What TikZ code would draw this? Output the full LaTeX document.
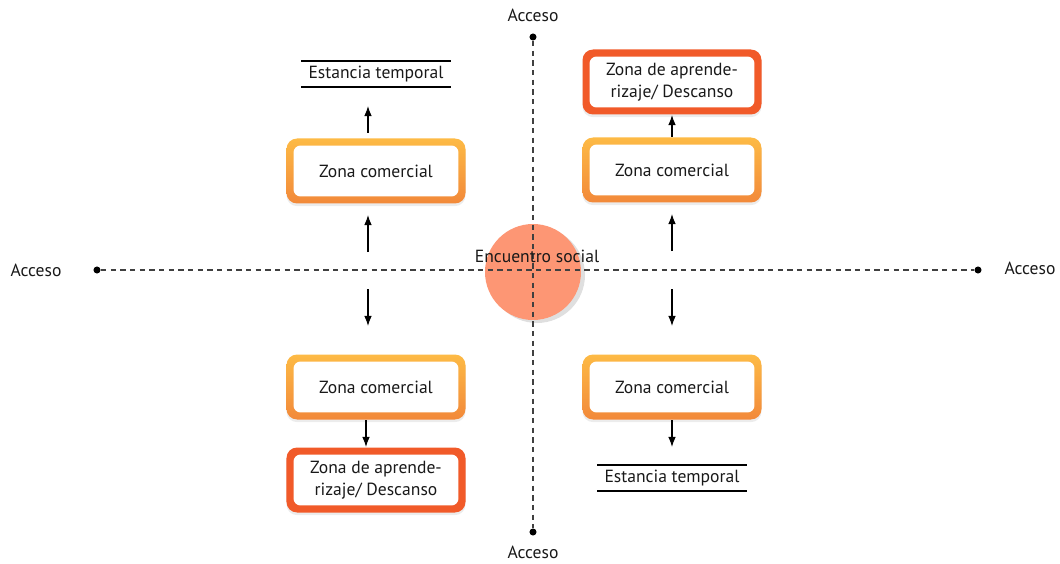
\documentclass[tikz,border=0pt]{standalone}
\usepackage{fontspec}
\setmainfont{PT Sans}
\usetikzlibrary{arrows.meta,positioning,shadows}
\definecolor{zonaamarillo}{HTML}{FDBA45}
\definecolor{zonanaranja}{HTML}{F2893A}
\definecolor{zonarojo}{HTML}{F15A29}
\definecolor{encuentro}{HTML}{FD9674}
\begin{document}
\begin{tikzpicture}[line width=0.6pt,>={Latex[length=2mm,width=1.5mm]},
  font=\fontsize{10}{12.2}\selectfont,text=black!90,
  zona/.style={rounded corners=6pt,minimum width=3.58cm,minimum height=1.3cm,align=center,
    drop shadow={shadow xshift=0pt,shadow yshift=-1.5pt,opacity=0.15},
    path picture={\fill[white,rounded corners=4pt]
      ([shift={(4pt,4pt)}]path picture bounding box.south west) rectangle
      ([shift={(-4pt,-4pt)}]path picture bounding box.north east);}},
  comercial/.style={zona,top color=zonaamarillo,bottom color=zonanaranja},
  descanso/.style={zona,fill=zonarojo},
  estancia/.style={minimum width=2.96cm,minimum height=0.5cm,inner sep=0pt},
  eje/.style={dash pattern=on 3pt off 2.5pt,black!75},
  punto/.style={circle,fill=black,inner sep=0pt,minimum size=4pt}]
  \useasboundingbox (-10.66,-5.86) rectangle (10.54,5.4);
  % ejes de acceso
  \node[circle,fill=encuentro,minimum size=1.92cm,
    drop shadow={shadow xshift=0.08cm,shadow yshift=-0.06cm,opacity=0.25}] (enc) at (0,-0.04){};
  \node[punto] (accN) at (0,4.66){};
  \node[punto] (accS) at (0,-5.24){};
  \node[punto] (accO) at (-8.72,0){};
  \node[punto] (accE) at (8.9,0){};
  \draw[eje] (accN) -- (accS);
  \draw[eje] (accO) -- (accE);
  \node (txtN) at (0,5.1){Acceso};
  \node (txtS) at (0,-5.64){Acceso};
  \node (txtO) at (-9.94,0){Acceso};
  \node (txtE) at (9.94,0.04){Acceso};
  \node (encT) at (0.08,0.28){Encuentro social};
  % zonas
  \node[estancia] (estNO) at (-3.14,3.92){Estancia temporal};
  \node[comercial] (comNO) at (-3.14,1.98){Zona comercial};
  \node[comercial] (comSO) at (-3.14,-2.34){Zona comercial};
  \node[descanso] (desSO) at (-3.14,-4.2){Zona de aprende-\\rizaje/ Descanso};
  \node[descanso] (desNE) at (2.78,3.76){Zona de aprende-\\rizaje/ Descanso};
  \node[comercial] (comNE) at (2.78,2.0){Zona comercial};
  \node[comercial] (comSE) at (2.78,-2.34){Zona comercial};
  \node[estancia] (estSE) at (2.78,-4.16){Estancia temporal};
  \draw[line width=0.9pt] (estNO.north west) -- (estNO.north east) (estNO.south west) -- (estNO.south east);
  \draw[line width=0.9pt] (estSE.north west) -- (estSE.north east) (estSE.south west) -- (estSE.south east);
  % flechas
  \coordinate (cNO) at (-3.3,0.36);
  \coordinate (cSO) at (-3.3,-0.38);
  \coordinate (cNE) at (2.78,0.38);
  \coordinate (cSE) at (2.78,-0.38);
  \draw[->,shorten >=0.22cm] (cNO) -- (cNO |- comNO.south);
  \draw[->,shorten >=0.56cm] (cSO) -- (cSO |- comSO.north);
  \draw[->,shorten >=0.22cm] (cNE) -- (cNE |- comNE.south);
  \draw[->,shorten >=0.56cm] (cSE) -- (cSE |- comSE.north);
  \draw[->,shorten <=0.1cm,shorten >=0.38cm] ([xshift=-0.16cm]comNO.north) -- ([xshift=-0.16cm]comNO.north |- estNO.south);
  \draw[->] ([xshift=-0.2cm]comSO.south) -- ([xshift=-0.2cm]desSO.north);
  \draw[->] (comNE) -- (desNE);
  \draw[->,shorten >=0.36cm] (comSE) -- (estSE);
\end{tikzpicture}
\end{document}
